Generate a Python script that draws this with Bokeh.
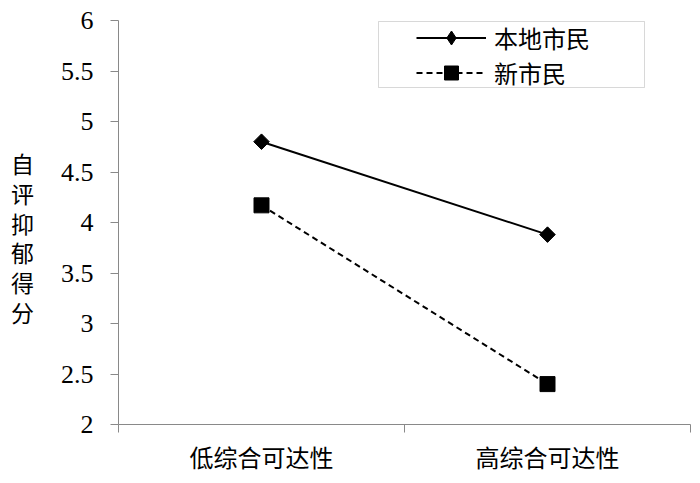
from bokeh.plotting import figure
from bokeh.models import (Range1d, FixedTicker, NumeralTickFormatter, Legend, LegendItem,
                          BoxAnnotation)
from bokeh.embed import file_html
from bokeh.resources import INLINE
import math

categories = ["低综合可达性", "高综合可达性"]
local_vals = [4.8, 3.88]
new_vals = [4.17, 2.40]
y_ticks = [2, 2.5, 3, 3.5, 4, 4.5, 5, 5.5, 6]
y_label = "自评抑郁得分"
series_names = ["本地市民", "新市民"]

xs = [i + 0.5 for i in range(len(categories))]
bounds = list(range(len(categories) + 1))

p = figure(width=700, height=483, output_backend="svg", toolbar_location=None,
           x_range=Range1d(0, len(categories)), y_range=Range1d(2, 6),
           min_border_left=118, min_border_right=10, min_border_top=20, min_border_bottom=59)
p.background_fill_color = "white"
p.border_fill_color = "white"
p.outline_line_color = None
p.xgrid.visible = False
p.ygrid.visible = False

CJK = "Noto Sans CJK SC"
SERIF = "Liberation Serif, Times New Roman, serif"
axis_col = "#898989"

# y axis
ya = p.yaxis[0]
ya.ticker = FixedTicker(ticks=y_ticks, minor_ticks=[])
ya.formatter = NumeralTickFormatter(format="0.[0]")
ya.major_label_text_font = SERIF
ya.major_label_text_font_size = "26px"
ya.major_label_text_color = "black"
ya.axis_line_color = axis_col
ya.major_tick_line_color = axis_col
ya.major_tick_out = 8
ya.major_tick_in = 0
ya.major_label_standoff = 17
ya.axis_label = " \n" + "\n".join(y_label)
ya.axis_label_orientation = "horizontal"
ya.axis_label_text_font = CJK
ya.axis_label_text_font_size = "23px"
ya.axis_label_text_font_style = "normal"
ya.axis_label_text_color = "black"
ya.axis_label_text_line_height = 0.88
ya.axis_label_standoff = 24

# x axis
xa = p.xaxis[0]
xa.ticker = FixedTicker(ticks=xs, minor_ticks=bounds)
xa.major_label_overrides = {x: c for x, c in zip(xs, categories)}
xa.major_tick_line_color = None
xa.minor_tick_line_color = axis_col
xa.minor_tick_out = 8
xa.minor_tick_in = 0
xa.axis_line_color = axis_col
xa.major_label_text_font = CJK
xa.major_label_text_font_size = "24px"
xa.major_label_text_color = "black"
xa.major_label_standoff = 6

l1 = p.line(xs, local_vals, line_color="black", line_width=2)
m1d = p.scatter(xs, local_vals, marker="diamond", size=14, fill_color="black", line_color="black")
m1 = p.scatter(xs, local_vals, marker="square", size=11, angle=math.pi / 4,
               fill_color="black", line_color="black")
l2 = p.line(xs, new_vals, line_color="black", line_width=2, line_dash="6 4")
m2 = p.scatter(xs, new_vals, marker="square", size=15, fill_color="black", line_color="black")

common = dict(glyph_width=70, glyph_height=35, label_height=35, label_standoff=8,
              spacing=0, padding=0, label_text_font=CJK, label_text_font_size="24px",
              label_text_color="black",
              border_line_alpha=0, background_fill_alpha=0)
leg1 = Legend(items=[LegendItem(label=series_names[0], renderers=[l1, m1d])],
              location=(298, 369), **common)
leg2 = Legend(items=[LegendItem(label=series_names[1], renderers=[l2, m2])],
              location=(298, 334), **common)
p.add_layout(leg1, "center")
p.add_layout(leg2, "center")

box = BoxAnnotation(left=378, right=644, top=21, bottom=87,
                    left_units="canvas", right_units="canvas", top_units="canvas", bottom_units="canvas",
                    fill_alpha=0, line_color="#7f7f7f", line_width=1)
p.add_layout(box)

open("out.html", "w").write(file_html(p, INLINE))
